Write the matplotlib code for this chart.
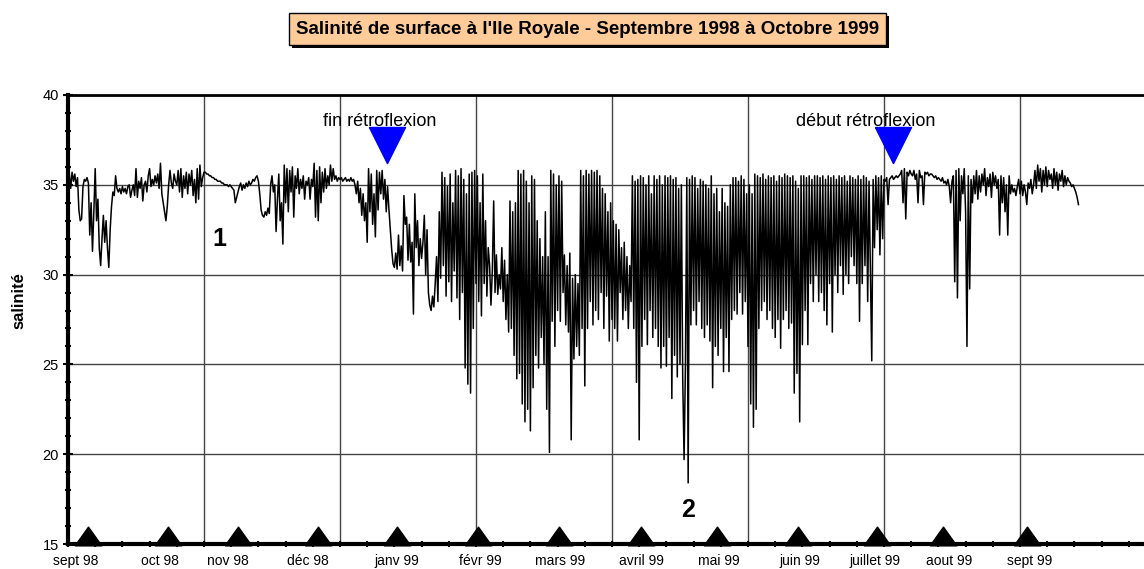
import numpy as np
import matplotlib.pyplot as plt
from matplotlib.patches import Rectangle

plt.rcParams['font.family'] = ['Liberation Sans', 'DejaVu Sans']

# ----------------------------
# DONNEES (salinité, pas de 0.5 jour depuis le 1er jour)
# ----------------------------
t0 = 0.5
dt = 0.5

salinity = [
    35.6, 34.8, 35.7, 35.2, 35.6, 34.9, 35.4, 33.6, 33.0, 33.1,
    34.9, 35.3, 35.2, 35.4, 35.1, 32.2, 34.0, 31.3, 33.5, 35.9,
    33.0, 34.2, 31.5, 30.5, 32.0, 33.3, 31.8, 33.0, 31.5, 30.4,
    32.5, 33.8, 34.6, 34.4, 35.5, 34.8, 34.6, 34.8, 34.5, 34.9,
    34.6, 34.8, 34.5, 34.9, 35.0, 34.3, 34.7, 35.0, 34.4, 35.9,
    34.3, 35.2, 34.8, 35.4, 34.1, 35.0, 35.2, 34.6, 35.5, 35.9,
    34.9, 35.3, 35.0, 35.5, 35.1, 35.6, 34.8, 36.2, 34.5, 34.0,
    33.5, 33.0, 33.8, 35.0, 35.8, 35.1, 34.8, 35.6, 35.2, 35.0,
    35.8, 34.6, 35.9, 34.3, 35.5, 34.8, 35.7, 34.5, 35.6, 35.0,
    35.8, 34.4, 35.3, 34.0, 35.9, 34.2, 36.1, 34.9, 35.4, 35.7,
    35.7, 35.6, 35.6, 35.5, 35.5, 35.4, 35.4, 35.3, 35.3, 35.2,
    35.2, 35.2, 35.1, 35.1, 35.0, 35.0, 35.0, 34.9, 35.0, 34.9,
    34.8, 34.7, 34.0, 34.3, 34.6, 34.9, 35.1, 34.7, 35.0, 34.8,
    35.1, 34.9, 35.2, 35.0, 35.1, 35.3, 35.2, 35.4, 35.5, 35.2,
    34.5, 33.6, 33.3, 33.2, 33.5, 33.3, 33.7, 33.4, 35.0, 35.5,
    34.6, 35.0, 32.4, 34.2, 35.6, 33.0, 34.0, 31.7, 36.1, 34.0,
    35.9, 33.5, 35.8, 34.6, 36.0, 33.2, 35.5, 34.8, 35.9, 34.5,
    35.3, 34.8, 35.5, 34.2, 35.2, 35.0, 35.4, 34.2, 35.3, 34.9,
    36.2, 33.2, 35.8, 33.0, 36.0, 34.0, 35.7, 34.6, 35.9, 34.8,
    35.5, 35.0, 36.1, 35.2, 35.9, 35.3, 35.5, 35.2, 35.4, 35.3,
    35.4, 35.2, 35.3, 35.4, 35.2, 35.3, 35.2, 35.4, 35.2, 35.3,
    35.0, 34.5, 35.2, 34.0, 34.8, 33.3, 34.5, 33.0, 34.0, 31.8,
    35.9, 33.5, 35.6, 32.8, 34.5, 32.1, 35.8, 33.6, 35.7, 34.5,
    35.8, 34.2, 35.3, 33.5, 34.9, 33.6, 32.5, 31.4, 30.6, 30.4,
    31.2, 30.3, 32.2, 30.5, 31.6, 30.2, 34.4, 32.8, 33.2, 30.8,
    32.8, 30.7, 31.8, 27.8, 34.5, 31.5, 33.0, 30.5, 32.0, 30.9,
    31.8, 33.3, 30.0, 32.5, 29.0, 28.3, 28.0, 28.8, 28.2, 29.5,
    31.0, 28.5, 33.5, 29.8, 35.7, 30.5, 35.4, 28.8, 34.9, 29.6,
    35.6, 28.5, 34.0, 30.2, 35.8, 28.7, 35.5, 27.5, 35.9, 29.0,
    35.3, 24.8, 34.5, 23.9, 35.6, 23.4, 35.7, 27.0, 35.8, 29.5,
    35.5, 28.5, 34.0, 27.7, 35.6, 29.5, 33.0, 28.8, 31.5, 30.5,
    28.3, 30.2, 34.1, 29.0, 31.1, 28.9, 30.0, 29.2, 31.5, 28.5,
    30.8, 27.5, 30.0, 26.8, 34.1, 27.0, 33.5, 25.5, 34.0, 24.2,
    35.8, 24.5, 35.6, 22.8, 35.8, 21.8, 35.2, 22.5, 34.0, 21.3,
    35.5, 23.7, 35.3, 25.5, 33.0, 24.8, 32.0, 26.5, 31.0, 25.0,
    33.5, 22.5, 31.0, 20.1, 35.8, 27.4, 35.6, 26.0, 35.0, 28.0,
    35.5, 27.4, 35.2, 29.0, 31.1, 27.2, 30.5, 26.8, 31.2, 20.8,
    29.8, 25.3, 30.0, 26.0, 29.5, 25.5, 35.8, 27.0, 35.5, 23.8,
    35.8, 27.0, 35.6, 28.5, 35.8, 27.2, 35.7, 28.0, 35.8, 27.5,
    35.5, 29.0, 34.8, 27.0, 34.5, 28.8, 33.5, 26.3, 34.0, 27.5,
    33.0, 27.0, 32.8, 26.3, 32.5, 29.0, 31.5, 27.5, 31.8, 28.0,
    31.0, 27.0, 30.5, 28.5, 35.5, 27.0, 35.2, 24.0, 35.3, 20.8,
    35.5, 26.0, 35.4, 27.5, 35.0, 26.1, 35.5, 28.0, 34.5, 26.5,
    35.5, 27.0, 35.3, 26.0, 35.5, 24.8, 35.0, 26.0, 35.5, 24.9,
    35.4, 26.5, 35.5, 23.1, 35.3, 25.5, 35.4, 24.3, 34.8, 25.0,
    35.0, 24.2, 19.7, 25.0, 35.4, 18.4, 35.3, 27.2, 35.5, 28.0,
    35.4, 27.2, 34.8, 28.5, 35.3, 27.0, 35.2, 26.5, 35.0, 27.2,
    34.8, 26.3, 35.5, 23.7, 34.5, 26.0, 34.8, 25.5, 33.5, 27.0,
    34.8, 24.6, 34.0, 26.5, 33.8, 24.6, 35.0, 27.5, 35.4, 28.0,
    35.4, 27.8, 35.2, 29.0, 35.5, 27.8, 35.3, 28.5, 34.5, 26.0,
    35.0, 22.8, 34.5, 21.5, 35.6, 22.5, 35.5, 27.0, 35.4, 28.0,
    35.6, 28.5, 35.3, 27.5, 35.5, 28.0, 35.4, 27.0, 35.5, 26.5,
    35.2, 27.5, 35.5, 25.9, 35.4, 27.5, 35.6, 28.0, 35.5, 27.0,
    35.4, 27.3, 35.5, 23.4, 35.2, 24.5, 34.8, 21.8, 35.5, 26.1,
    35.5, 28.0, 35.4, 26.1, 35.5, 29.5, 35.3, 28.5, 35.5, 30.0,
    35.5, 28.5, 35.4, 29.0, 35.5, 28.0, 35.3, 27.2, 35.5, 29.5,
    35.4, 26.8, 35.5, 30.0, 35.3, 29.0, 35.5, 30.5, 35.4, 28.9,
    35.5, 30.0, 35.2, 29.5, 35.5, 31.0, 35.4, 30.5, 35.3, 29.5,
    35.5, 27.4, 35.3, 29.5, 35.5, 30.5, 35.4, 28.5, 35.2, 30.0,
    25.2, 35.3, 31.5, 35.5, 32.5, 35.4, 31.1, 35.5, 32.0, 35.3,
    35.2, 35.4, 33.9, 35.3, 35.4, 35.5, 35.3, 35.4, 35.5, 35.4,
    35.5, 35.6, 35.8, 34.0, 35.9, 33.1, 35.7, 35.5, 35.8, 35.6,
    35.5, 35.8, 35.3, 35.6, 34.0, 35.8, 35.4, 35.5, 33.9, 35.7,
    35.6, 35.7, 35.5, 35.6, 35.6, 35.5, 35.4, 35.5, 35.3, 35.4,
    35.3, 35.2, 35.4, 35.1, 35.2, 35.0, 35.3, 34.9, 34.0, 35.2,
    35.5, 29.6, 35.8, 28.7, 35.9, 33.0, 35.5, 34.5, 35.9, 33.5,
    26.0, 35.5, 29.2, 35.3, 34.0, 35.5, 34.5, 35.8, 34.2, 35.5,
    34.6, 35.6, 35.0, 35.9, 34.4, 35.4, 34.9, 35.6, 34.3, 35.7,
    35.0, 35.5, 34.8, 35.3, 32.2, 35.5, 34.0, 35.4, 33.5, 35.0,
    32.2, 35.5, 34.5, 35.0, 34.6, 34.8, 34.4, 34.9, 35.3, 34.5,
    35.2, 34.4, 35.0, 34.6, 33.9, 35.1, 34.8, 35.3, 34.5, 35.0,
    35.8, 34.8, 36.1, 35.2, 35.9, 34.6, 35.8, 35.0, 36.0, 34.9,
    35.8, 35.3, 35.6, 34.8, 35.9, 35.0, 35.7, 34.7, 35.6, 35.2,
    35.8, 34.9, 35.5, 35.0, 35.4, 35.2, 35.1, 34.9, 35.0, 34.8,
    34.6, 34.3, 33.9,
]

months = ['sept 98', 'oct 98', 'nov 98', 'déc 98', 'janv 99', 'févr 99',
          'mars 99', 'avril 99', 'mai 99', 'juin 99', 'juillet 99',
          'aout 99', 'sept 99']
month_days = [7.5, 36.9, 62.4, 92.0, 120.8, 150.6, 180.6, 210.7, 238.5,
              268.5, 297.3, 321.8, 352.5]
label_days = [2.9, 33.9, 58.8, 88.2, 121.0, 151.5, 181.0, 210.7, 239.2,
              268.9, 296.8, 324.1, 353.6]

retro_labels = ['fin rétroflexion', 'début rétroflexion']
retro_days = [117.3, 303.3]
retro_text_days = [114.7, 293.4]

days = t0 + dt * np.arange(len(salinity))

# ----------------------------
# FIGURE
# ----------------------------
W, H = 1144, 569
fig = plt.figure(figsize=(W / 100, H / 100), dpi=100)
ax = fig.add_axes([68 / W, 25 / H, (1156 - 68) / W, 449 / H])

ax.plot(days, salinity, color='black', lw=1.1, zorder=3)

ax.set_xlim(0, 400)
ax.set_ylim(15, 40)
ax.set_yticks(range(15, 41, 5))
ax.set_yticks(range(15, 41), minor=True)
ax.set_xticks(range(0, 401, 50))
ax.set_xticks(range(0, 401, 10), minor=True)
ax.set_xticklabels([])
ax.grid(True, which='major', color='#444444', lw=1)
ax.set_axisbelow(True)

for side in ['left', 'bottom']:
    ax.spines[side].set_linewidth(3)
ax.spines['top'].set_linewidth(2)
ax.spines['right'].set_visible(False)

ax.tick_params(axis='y', which='major', direction='inout', length=7, width=1.5,
               labelsize=10.5, pad=3)
ax.tick_params(axis='y', which='minor', direction='inout', length=5, width=1.5)
ax.tick_params(axis='x', which='both', direction='inout', length=5, width=1.5)

ax.set_ylabel('salinité', fontsize=12, fontweight='bold')
ax.yaxis.set_label_coords(-42 / 1088, 0.543)

# triangles des mois sur l'axe
tri_up = [(-1, -0.1), (1, -0.1), (0, 1.3), (-1, -0.1)]
ax.plot(month_days, np.zeros(len(month_days)), ls='none', marker=tri_up, ms=25,
        color='black', clip_on=False, zorder=6, transform=ax.get_xaxis_transform())
for d, m in zip(label_days, months):
    ax.annotate(m, (d, 0), xycoords=('data', 'axes fraction'), xytext=(0, -12),
                textcoords='offset points', ha='center', va='center', fontsize=10,
                annotation_clip=False)

# rétroflexion
tri_down = [(-1, 0), (1, 0), (0, -2), (-1, 0)]
ax.plot(retro_days, [38.2, 38.2], ls='none', marker=tri_down, ms=52,
        color='#0000FF', zorder=5)
for d, lab in zip(retro_text_days, retro_labels):
    ax.text(d, 38.5, lab, ha='center', va='center', fontsize=13)

ax.text(55.5, 32.0, '1', ha='center', va='center', fontsize=18, fontweight='bold')
ax.text(228, 16.9, '2', ha='center', va='center', fontsize=18, fontweight='bold')

# titre encadré
bx, by, bw, bh = 289 / W, 1 - 45 / H, 597 / W, 32 / H
fig.patches.append(Rectangle((bx + 3 / W, by - 3 / H), bw, bh, transform=fig.transFigure,
                             facecolor='black', edgecolor='none', zorder=1))
fig.patches.append(Rectangle((bx, by), bw, bh, transform=fig.transFigure,
                             facecolor='#FFCC99', edgecolor='black', lw=1, zorder=2))
fig.text(bx + bw / 2, by + bh / 2,
         "Salinité de surface à l'Ile Royale - Septembre 1998 à Octobre 1999",
         ha='center', va='center', fontsize=13.5, fontweight='bold', zorder=3)

fig.savefig('out.png', dpi=100)
